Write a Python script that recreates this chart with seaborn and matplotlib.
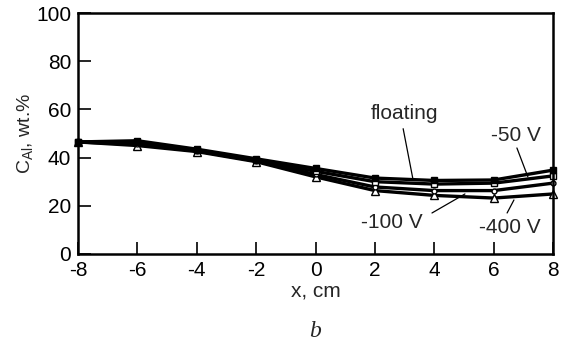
import matplotlib
matplotlib.use("Agg")
import matplotlib.pyplot as plt
import seaborn as sns
import pandas as pd

# Al concentration profiles along the substrate for different bias voltages
x_cm = [-8, -6, -4, -2, 0, 2, 4, 6, 8]
c_floating = [46.5, 47.0, 43.5, 39.5, 35.5, 31.5, 30.5, 30.7, 34.8]
c_50v = [46.5, 46.5, 43.0, 39.0, 34.3, 30.0, 29.0, 29.4, 32.4]
c_100v = [46.5, 45.5, 42.8, 38.6, 33.0, 27.8, 26.3, 26.3, 29.4]
c_400v = [46.5, 45.0, 42.5, 38.3, 32.0, 26.3, 24.3, 23.2, 24.9]

series_names = ["floating", "-50 V", "-100 V", "-400 V"]
series_values = [c_floating, c_50v, c_100v, c_400v]

x_ticks = [-8, -6, -4, -2, 0, 2, 4, 6, 8]
y_ticks = [0, 20, 40, 60, 80, 100]

sns.set_theme(style="ticks")
plt.rcParams["font.family"] = ["Liberation Sans", "DejaVu Sans"]
plt.rcParams["mathtext.fontset"] = "custom"
plt.rcParams["mathtext.rm"] = "Liberation Sans"
plt.rcParams["mathtext.it"] = "Liberation Sans"
plt.rcParams["axes.unicode_minus"] = False

df = pd.DataFrame(
    [(name, xv, yv) for name, vals in zip(series_names, series_values)
     for xv, yv in zip(x_cm, vals)],
    columns=["series", "x", "c"],
)

fig = plt.figure(figsize=(5.65, 3.45), dpi=100)
ax = fig.add_axes([0.138, 0.264, 0.841, 0.698])

styles = {
    "floating": dict(marker="s", markersize=5, markerfacecolor="black"),
    "-50 V": dict(marker="s", markersize=5, markerfacecolor="white"),
    "-100 V": dict(marker="o", markersize=3.5, markerfacecolor="white"),
    "-400 V": dict(marker="^", markersize=5.5, markerfacecolor="white"),
}
for name in series_names[::-1]:
    sub = df[df["series"] == name]
    sns.lineplot(data=sub, x="x", y="c", ax=ax, color="black", linewidth=2.4,
                 markeredgecolor="black", markeredgewidth=1.0,
                 clip_on=False, **styles[name])

ax.set_xlim(-8, 8)
ax.set_ylim(0, 100)
ax.set_xticks(x_ticks)
ax.set_yticks(y_ticks)
ax.tick_params(direction="in", length=9, width=1.2, labelsize=15,
               colors="black", pad=5)
for s in ax.spines.values():
    s.set_linewidth(1.8)
    s.set_color("black")
ax.set_xlabel("x, cm", fontsize=15, labelpad=1)
ax.set_ylabel(r"C$_{\mathregular{Al}}$, wt.%", fontsize=14, labelpad=1)

fs = 15
line = dict(arrowstyle="-", color="black", lw=0.9, shrinkA=0, shrinkB=0)
ax.text(3.01, 58.5, "floating", fontsize=fs, ha="center", va="center")
ax.annotate("", xy=(3.28, 31.0), xytext=(2.95, 52.0), arrowprops=line)
ax.text(6.75, 49.0, "-50 V", fontsize=fs, ha="center", va="center")
ax.annotate("", xy=(7.15, 32.0), xytext=(6.78, 44.0), arrowprops=line)
ax.text(2.57, 12.9, "-100 V", fontsize=fs, ha="center", va="center")
ax.annotate("", xy=(5.03, 24.9), xytext=(3.92, 17.0), arrowprops=line)
ax.text(6.55, 10.8, "-400 V", fontsize=fs, ha="center", va="center")
ax.annotate("", xy=(6.68, 22.4), xytext=(6.45, 17.0), arrowprops=line)

fig.text(0.558, 0.038, "b", fontsize=17, fontstyle="italic",
         family=["Liberation Serif", "DejaVu Serif"], ha="center", va="center")

fig.savefig("out.png", dpi=100, facecolor="white")
